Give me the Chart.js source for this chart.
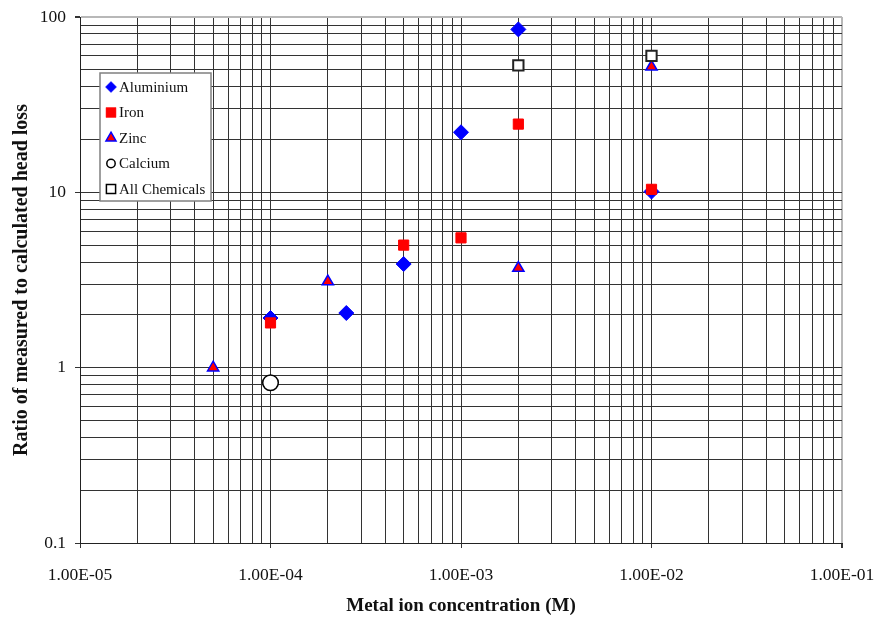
<!DOCTYPE html>
<html>
<head>
<meta charset="utf-8">
<script src="https://cdn.jsdelivr.net/npm/chart.js@4.4.1/dist/chart.umd.min.js"></script>
<style>
  body { margin: 0; background: #fff; }
  #wrap { width: 875px; height: 617px; position: relative; }
</style>
</head>
<body>
<div id="wrap"><canvas id="chart"></canvas></div>
<script>
// ================= DATA =================
const seriesNames = ["Aluminium", "Iron", "Zinc", "Calcium", "All Chemicals"];

const aluminiumX = [1e-4, 2.5e-4, 5e-4, 1e-3, 2e-3, 1e-2];
const aluminiumY = [1.92, 2.05, 3.9, 22, 85, 10.1];

const ironX = [1e-4, 5e-4, 1e-3, 2e-3, 1e-2];
const ironY = [1.8, 5.0, 5.5, 24.5, 10.4];

const zincX = [5e-5, 2e-4, 2e-3, 1e-2];
const zincY = [1.0, 3.1, 3.7, 52];

const calciumX = [1e-4];
const calciumY = [0.82];

const allX = [2e-3, 1e-2];
const allY = [53, 60];

const xTickLabels = ["1.00E-05", "1.00E-04", "1.00E-03", "1.00E-02", "1.00E-01"];
const yTickLabels = ["0.1", "1", "10", "100"];
const xMinExp = -5, xMaxExp = -1;
const yMinExp = -1, yMaxExp = 2;

// ================= HELPERS =================
const pts = (xs, ys) => xs.map((x, i) => ({ x: x, y: ys[i] }));

function isDecade(v) {
    const l = Math.log10(v);
    return Math.abs(l - Math.round(l)) < 1e-9;
}

// every 1..9 x 10^n so the log grid gets all the minor lines
function logTicks(minExp, maxExp) {
    const out = [];
    for (let e = minExp; e < maxExp; e++) {
        for (let m = 1; m <= 9; m++) out.push({ value: m * Math.pow(10, e) });
    }
    out.push({ value: Math.pow(10, maxExp) });
    return out;
}

const GRID = "#333";
const FONT = "'Liberation Serif', 'Times New Roman', serif";

// ================= LEGEND (inside plot) =================
const legendBox = {
    id: "legendBox",
    afterDraw(chart) {
        const ctx = chart.ctx;
        const x0 = 100, y0 = 73, w = 111, h = 128;
        ctx.save();
        ctx.fillStyle = "#fff";
        ctx.fillRect(x0, y0, w, h);
        ctx.strokeStyle = "#808080";
        ctx.lineWidth = 1.5;
        ctx.strokeRect(x0, y0, w, h);

        const marks = [
            { style: "rectRot", r: 5.5, fill: "#0000ff", stroke: "#0000ff", bw: 0.5 },
            { style: "rect", r: 7, fill: "#ff0000", stroke: "#ff0000", bw: 0.5 },
            { style: "triangle", r: 5.8, fill: "#ff0000", stroke: "#0000ff", bw: 1.5 },
            { style: "circle", r: 4.2, fill: "#fff", stroke: "#000", bw: 1.5 },
            { style: "rect", r: 6.5, fill: "#fff", stroke: "#000", bw: 1.5 }
        ];

        ctx.font = "15px " + FONT;
        ctx.textBaseline = "middle";
        ctx.textAlign = "left";
        seriesNames.forEach((name, i) => {
            const cy = y0 + 14 + i * 25.5;
            const m = marks[i];
            ctx.fillStyle = m.fill;
            ctx.strokeStyle = m.stroke;
            ctx.lineWidth = m.bw;
            Chart.helpers.drawPoint(ctx, { pointStyle: m.style, rotation: 0, radius: m.r, borderWidth: m.bw }, x0 + 11, cy);
            ctx.fillStyle = "#111";
            ctx.fillText(name, x0 + 19, cy + 1);
        });
        ctx.restore();
    }
};

// ================= CHART =================
new Chart(document.getElementById("chart"), {
    type: "scatter",
    data: {
        datasets: [
            {
                label: seriesNames[0], data: pts(aluminiumX, aluminiumY), order: 5,
                pointStyle: "rectRot", pointRadius: 7.5, pointHoverRadius: 7.5,
                backgroundColor: "#0000ff", borderColor: "#0000ff", borderWidth: 1
            },
            {
                label: seriesNames[1], data: pts(ironX, ironY), order: 4,
                pointStyle: "rect", pointRadius: 7.2, pointHoverRadius: 7.2,
                backgroundColor: "#ff0000", borderColor: "#ff0000", borderWidth: 1
            },
            {
                label: seriesNames[2], data: pts(zincX, zincY), order: 3,
                pointStyle: "triangle", pointRadius: 6.5, pointHoverRadius: 6.5,
                backgroundColor: "#ff0000", borderColor: "#0000ff", borderWidth: 1.5
            },
            {
                label: seriesNames[3], data: pts(calciumX, calciumY), order: 2,
                pointStyle: "circle", pointRadius: 7.8, pointHoverRadius: 7.8,
                backgroundColor: "#fff", borderColor: "#000", borderWidth: 1.5
            },
            {
                label: seriesNames[4], data: pts(allX, allY), order: 1,
                pointStyle: "rect", pointRadius: 7.3, pointHoverRadius: 7.3,
                backgroundColor: "#fff", borderColor: "#222", borderWidth: 2
            }
        ]
    },
    options: {
        responsive: true,
        maintainAspectRatio: false,
        animation: false,
        layout: { padding: { top: 17, right: 33, left: 0, bottom: 0 } },
        plugins: {
            legend: { display: false },
            tooltip: { enabled: false }
        },
        scales: {
            x: {
                type: "logarithmic",
                min: Math.pow(10, xMinExp),
                max: Math.pow(10, xMaxExp),
                afterBuildTicks: s => { s.ticks = logTicks(xMinExp, xMaxExp); },
                afterFit: s => { s.height = 74; s.paddingLeft = 0; s.paddingRight = 0; },
                grid: {
                    color: c => (c.tick && c.index === c.chart.scales.x.ticks.length - 1) ? "#b8b8b8" : GRID,
                    lineWidth: c => (c.tick && c.index === c.chart.scales.x.ticks.length - 1) ? 2 : 1,
                    tickLength: 5,
                    tickColor: c => (c.tick && isDecade(c.tick.value)) ? "#333" : "rgba(0,0,0,0)"
                },
                border: { color: "#222", width: 1 },
                ticks: {
                    autoSkip: false,
                    maxRotation: 0,
                    padding: 17,
                    color: "#111",
                    font: { family: FONT, size: 17.5 },
                    callback: v => isDecade(v) ? xTickLabels[Math.round(Math.log10(v)) - xMinExp] : ""
                },
                title: {
                    display: true,
                    text: "Metal ion concentration (M)",
                    color: "#111",
                    font: { family: FONT, size: 19, weight: "bold" },
                    padding: { top: 0, bottom: 0 }
                }
            },
            y: {
                type: "logarithmic",
                min: Math.pow(10, yMinExp),
                max: Math.pow(10, yMaxExp),
                afterBuildTicks: s => { s.ticks = logTicks(yMinExp, yMaxExp); },
                afterFit: s => { s.width = 80; s.paddingTop = 0; s.paddingBottom = 0; },
                grid: {
                    color: c => (c.tick && c.index === c.chart.scales.y.ticks.length - 1) ? "#b8b8b8" : GRID,
                    lineWidth: c => (c.tick && c.index === c.chart.scales.y.ticks.length - 1) ? 2 : 1,
                    tickLength: 5,
                    tickColor: c => (c.tick && isDecade(c.tick.value)) ? "#333" : "rgba(0,0,0,0)"
                },
                border: { color: "#222", width: 1 },
                ticks: {
                    autoSkip: false,
                    padding: 9,
                    color: "#111",
                    font: { family: FONT, size: 17.5 },
                    callback: v => isDecade(v) ? yTickLabels[Math.round(Math.log10(v)) - yMinExp] : ""
                },
                title: {
                    display: true,
                    text: "Ratio of measured to calculated head loss",
                    color: "#111",
                    font: { family: FONT, size: 20, weight: "bold" },
                    padding: { top: 10, bottom: 0 }
                }
            }
        }
    },
    plugins: [legendBox]
});
</script>
</body>
</html>
